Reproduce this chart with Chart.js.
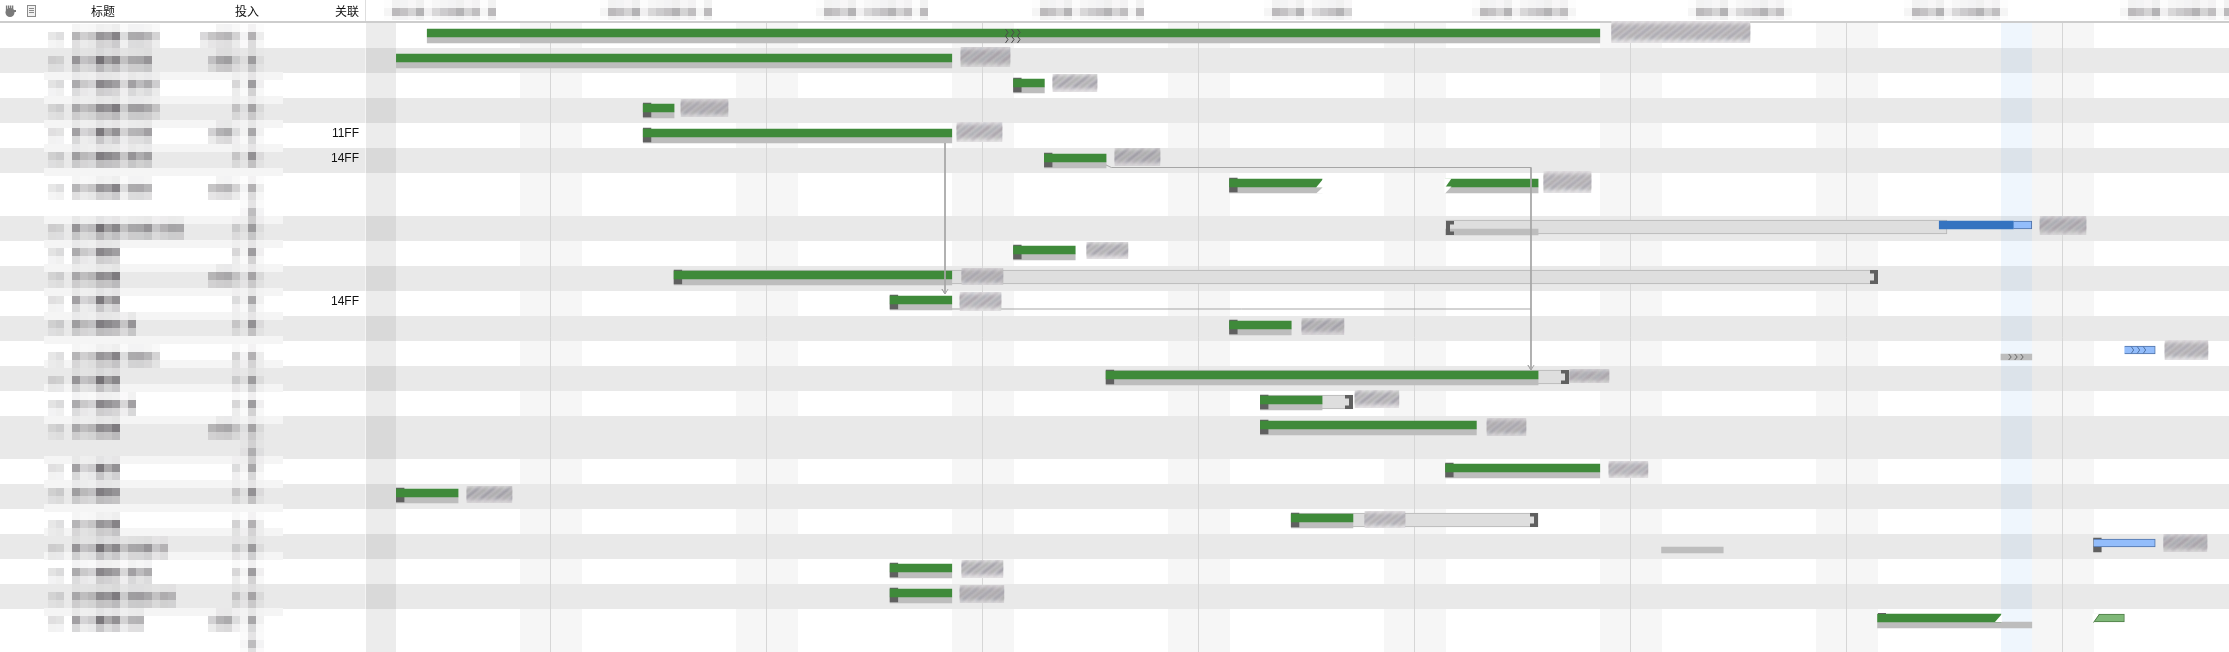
<!DOCTYPE html>
<html>
<head>
<meta charset="utf-8">
<style>
    html, body { margin: 0; padding: 0; background: #fff; overflow: hidden; }
    canvas { display: block; }
</style>
<script src="https://cdn.jsdelivr.net/npm/chart.js@4"></script>
</head>
<body>
<canvas id="ganttChart" width="2229" height="652"></canvas>
<script>
// Satir yukseklikleri (y ekseni birimi)
var rowHeights = [25, 25, 25, 25, 25, 25, 43, 25, 25, 25, 25, 25, 25, 25, 25, 43, 25, 25, 25, 25, 25, 25, 43];

// Sutun basliklari ve iliski etiketleri
var columnTitles = ['标题', '投入', '关联'];
var linkRows = [5, 6, 11];
var linkLabels = ['11FF', '14FF', '14FF'];

// Zaman ekseni (gun)
var weekTicks = [6, 13, 20, 27, 34, 41, 48, 55];
var weekendStarts = [5, 12, 19, 26, 33, 40, 47, 54];
var todayDay = 53;
var lastDay = 60.39;

// [satir, baslangic, bitis]
var actualBars = [[1, 2, 40], [2, 1, 19], [3, 21, 22], [4, 9, 10], [5, 9, 19], [6, 22, 24], [7, 28, 31], [7, 35, 38],
    [9, 21, 23], [10, 10, 19], [11, 17, 19], [12, 28, 30], [14, 24, 38], [15, 29, 31], [16, 29, 36], [17, 35, 40],
    [18, 1, 3], [19, 30, 32], [21, 17, 19], [22, 17, 19], [23, 49, 53]];
var plannedBars = [[1, 2, 40], [2, 1, 19], [3, 21, 22], [4, 9, 10], [5, 9, 19], [6, 22, 24], [7, 28, 31], [7, 35, 38],
    [8, 35, 38], [9, 21, 23], [10, 10, 19], [11, 17, 19], [12, 28, 30], [13, 53, 54], [14, 24, 38], [15, 29, 31],
    [16, 29, 36], [17, 35, 40], [18, 1, 3], [19, 30, 32], [20, 42, 44], [21, 17, 19], [22, 17, 19], [23, 49, 54]];
var outlineBars = [[8, 35, 51.25], [10, 10, 49], [14, 24, 39], [15, 29, 32], [19, 30, 38]];
var darkBlueBars = [[8, 51, 53.4]];
var lightBlueBars = [[8, 53.4, 54], [13, 57, 58], [20, 56, 58]];
var lightGreenBars = [[23, 56, 57]];
var startMarks = [[3, 21], [4, 9], [5, 9], [6, 22], [7, 28], [9, 21], [10, 10], [11, 17], [12, 28], [14, 24], [15, 29],
    [16, 29], [17, 35], [18, 1], [19, 30], [20, 56], [21, 17], [22, 17]];
var endBrackets = [[10, 49], [14, 39], [15, 32], [19, 38]];
var openBrackets = [[8, 35]];

// Baglanti cizgileri [gun, y]
var linkA = [[18.78, 120], [18.78, 271], [18.68, 266], [18.78, 271], [18.88, 266]];
var linkB = [[24, 142], [24.17, 144.5], [37.77, 144.5], [37.77, 347], [37.67, 342], [37.77, 347], [37.87, 342]];
var linkC = [[19, 286], [37.77, 286]];

// Bulanik cubuk etiketleri [satir, baslangic, bitis, ust, yukseklik]
var blurredLabels = [[1, 40.37, 44.88, -2, 22], [2, 19.28, 20.9, -1, 20], [3, 22.26, 23.72, 1, 18], [4, 10.21, 11.76, 1, 18],
    [5, 19.15, 20.64, -1, 20], [6, 24.27, 25.76, 0, 18], [7, 38.17, 39.73, -2, 22], [8, 54.25, 55.77, 0, 19],
    [9, 23.36, 24.72, 1, 17], [10, 19.31, 20.67, 2, 17], [11, 19.25, 20.61, 1, 19], [12, 30.33, 31.72, 2, 17],
    [13, 58.3, 59.72, -1, 20], [14, 39.01, 40.31, 3, 14], [15, 32.05, 33.5, -1, 18], [16, 36.33, 37.62, 2, 18],
    [17, 40.28, 41.57, 2, 17], [18, 3.27, 4.76, 2, 17], [19, 32.37, 33.7, 2, 17], [20, 58.26, 59.69, 0, 18],
    [21, 19.31, 20.67, 1, 18], [22, 19.25, 20.7, 1, 18]];

// Sol tablo mozaik sutun sinirlari
var titleEnds = [160, 152, 160, 160, 152, 152, 152, 184, 120, 120, 120, 136, 160, 120, 136, 120, 120, 120, 120, 168, 152, 176, 144];
var inputStarts = [200, 208, 232, 232, 208, 232, 208, 232, 232, 208, 232, 232, 232, 232, 232, 208, 232, 232, 232, 232, 232, 232, 208];
var titleTones = [.14, .16, 0, .42, .24, .26, .6, .48, .55, .2, .42, .38, .42, .22, .3, .34, .42, .24];
var inputTones = [.22, .26, .34, .42, .2, .06, .44, .08];
var bandGapRows = [1, 21];

// Hafta basliklari mozaik araliklari (gun)
var weekLabelSpans = [[0.84, 3.99], [7.84, 11.18], [14.84, 18.11], [21.81, 24.98], [29.13, 31.89], [35.87, 38.98],
    [42.87, 46.08], [49.87, 53.18], [57.1, 60.37]];
var weekLabelTones = [.05, .34, .3, .22, .38, .08, .2, .26, .3, .38, .22, .32];

var HEADER = 23;
var rowTops = [];
rowHeights.reduce(function (sum, h, i) { rowTops[i] = sum; return sum + h; }, 0);
var totalHeight = rowHeights.reduce(function (a, b) { return a + b; }, 0);

function rowY(row, dy) {
    return rowTops[row - 1] + dy;
}

// 7. satirdan sonra cubuklar satir cizgisine gore 1 birim yukarida duruyor
function barY(row, dy) {
    return rowY(row, dy) - (row > 7 ? 1 : 0);
}

function barData(list, dy) {
    return list.map(function (b) {
        return { x: [b[1], b[2]], y: barY(b[0], dy) };
    });
}

function linkData(list) {
    return list.map(function (p) {
        return { x: p[0], y: p[1] };
    });
}

function barSet(list, dy, color, thickness, order, border) {
    return {
        type: 'bar',
        data: barData(list, dy),
        backgroundColor: color,
        borderColor: border || color,
        borderWidth: border ? 1 : 0,
        barThickness: thickness,
        grouped: false,
        order: order
    };
}

function linkSet(list) {
    return {
        type: 'line',
        data: linkData(list),
        borderColor: '#a6a6a6',
        borderWidth: 1,
        pointRadius: 0,
        tension: 0,
        fill: false,
        order: 1
    };
}

function cell(ctx, x, y, alpha) {
    if (alpha <= 0) return;
    ctx.fillStyle = 'rgba(58,54,60,' + alpha.toFixed(3) + ')';
    ctx.fillRect(x, y, 8, 8);
}

// Arka plan: satirlar, hafta sonlari, bugun
var backgroundPlugin = {
    id: 'ganttBackground',
    beforeDraw: function (chart) {
        var ctx = chart.ctx, xs = chart.scales.x, ys = chart.scales.y;
        var W = chart.width, H = chart.height;
        ctx.save();
        ctx.fillStyle = '#fff';
        ctx.fillRect(0, 0, W, H);

        ctx.fillStyle = '#f6f6f6';
        weekendStarts.forEach(function (d) {
            var a = Math.round(xs.getPixelForValue(d)), b = Math.round(xs.getPixelForValue(d + 2));
            ctx.fillRect(a, HEADER, b - a, H - HEADER);
        });

        var colA = Math.round(xs.getPixelForValue(0)), colB = Math.round(xs.getPixelForValue(1));
        var todayA = Math.round(xs.getPixelForValue(todayDay)), todayB = Math.round(xs.getPixelForValue(todayDay + 1));
        rowHeights.forEach(function (h, i) {
            var top = Math.round(ys.getPixelForValue(rowTops[i]));
            var grey = i % 2 === 1;
            if (grey) {
                ctx.fillStyle = '#e9e9e9';
                ctx.fillRect(0, top, W, h);
            }
            ctx.fillStyle = grey ? '#d9d9d9' : '#ececec';
            ctx.fillRect(colA, top, colB - colA, h);
            ctx.fillStyle = grey ? '#dce3ea' : '#eff6fd';
            ctx.fillRect(todayA, top, todayB - todayA, h);
        });

        ctx.fillStyle = '#cdcdcd';
        ctx.fillRect(0, 21, W, 2);
        ctx.fillStyle = '#dedede';
        ctx.fillRect(colA - 1, 0, 1, 21);
        ctx.fillStyle = 'rgba(255,255,255,.5)';
        ctx.fillRect(colA - 1, HEADER, 1, H - HEADER);
        ctx.restore();
    }
};

function drawHeader(chart) {
    var ctx = chart.ctx, xs = chart.scales.x;
    // el ikonu
    ctx.fillStyle = '#7a7a7a';
    ctx.beginPath();
    ctx.ellipse(10, 12.5, 4.5, 4.5, 0, 0, Math.PI * 2);
    ctx.fill();
    [6.5, 8.5, 10.5, 12.5].forEach(function (x) { ctx.fillRect(x - 0.6, 5.5, 1.4, 6); });
    ctx.fillRect(13, 10, 3, 2);
    // belge ikonu
    ctx.fillStyle = '#f2f2f2';
    ctx.fillRect(27.5, 5.5, 8, 11);
    ctx.strokeStyle = '#8a8a8a';
    ctx.lineWidth = 1;
    ctx.strokeRect(27.5, 5.5, 8, 11);
    ctx.beginPath();
    [8.5, 10.5, 12.5].forEach(function (y) { ctx.moveTo(29, y); ctx.lineTo(34, y); });
    ctx.stroke();

    ctx.fillStyle = '#111';
    ctx.font = '12px "Noto Sans CJK SC"';
    ctx.textBaseline = 'middle';
    ctx.textAlign = 'center';
    ctx.fillText(columnTitles[0], 103, 11);
    ctx.fillText(columnTitles[1], 247, 11);
    ctx.textAlign = 'right';
    ctx.fillText(columnTitles[2], 359, 11);

    weekLabelSpans.forEach(function (span) {
        var a = Math.floor(xs.getPixelForValue(span[0]) / 8) * 8;
        var b = Math.min(Math.ceil(xs.getPixelForValue(span[1]) / 8) * 8, chart.width);
        for (var x = a, k = 0; x < b; x += 8, k++) {
            var t = weekLabelTones[k % weekLabelTones.length];
            cell(ctx, x, 8, t);
            cell(ctx, x, 0, t * 0.2);
            ctx.fillStyle = 'rgba(58,54,60,' + (t * 0.2).toFixed(3) + ')';
            ctx.fillRect(x, 16, 8, 4);
        }
    });
}

function drawLeftTable(chart) {
    var ctx = chart.ctx, ys = chart.scales.y;
    rowHeights.forEach(function (h, i) {
        if (i > 0 && bandGapRows.indexOf(i) < 0) {
            var top = Math.round(ys.getPixelForValue(rowTops[i]));
            ctx.fillStyle = '#f5f5f5';
            ctx.fillRect(44, Math.floor(top / 8) * 8, 239, 8);
        }
    });
    rowHeights.forEach(function (h, i) {
        var top = Math.round(ys.getPixelForValue(rowTops[i]));
        var line = Math.floor((top + 11) / 8) * 8;
        var x, k, t;
        for (x = 48, k = 0; x < titleEnds[i]; x += 8, k++) {
            t = titleTones[k % titleTones.length] * (1 + 0.12 * ((k * 7 + i * 5) % 3 - 1));
            cell(ctx, x, line, t);
            cell(ctx, x, line + 8, t * 0.42);
            if (x >= 72) cell(ctx, x, line - 8, t * 0.14);
        }
        for (x = inputStarts[i]; x < 264; x += 8) {
            k = (x - 200) / 8;
            t = inputTones[k] * (1 + 0.12 * ((k * 5 + i * 7) % 3 - 1));
            cell(ctx, x, line, t);
            cell(ctx, x, line + 8, t * 0.45);
            if (x >= 216) cell(ctx, x, line - 8, t * 0.16);
        }
        if (h > 30) {
            for (x = 240; x < 264; x += 8) {
                k = (x - 200) / 8;
                cell(ctx, x, line + 16, inputTones[k] * 0.3);
                cell(ctx, x, line + 24, inputTones[k] * 0.75);
                cell(ctx, x, line + 32, inputTones[k] * 0.35);
            }
        }
    });

    ctx.fillStyle = '#111';
    ctx.font = '12px "Liberation Sans"';
    ctx.textAlign = 'right';
    ctx.textBaseline = 'middle';
    linkRows.forEach(function (row, i) {
        ctx.fillText(linkLabels[i], 359, ys.getPixelForValue(rowY(row, 11)));
    });
}

function drawBlurredLabels(chart) {
    var ctx = chart.ctx, xs = chart.scales.x, ys = chart.scales.y;
    var streaks = ['#7d7480', '#8d9a8c', '#a28f9f', '#7f8c9c', '#5f5a60', '#b2a9b5'];
    blurredLabels.forEach(function (l, n) {
        var x0 = xs.getPixelForValue(l[1]), x1 = xs.getPixelForValue(l[2]);
        var y0 = ys.getPixelForValue(rowY(l[0], l[3])), h = l[4], w = x1 - x0;
        var count = Math.round((w + h) / 2.6);
        ctx.save();
        ctx.beginPath();
        ctx.rect(x0, y0, w, h);
        ctx.clip();
        ctx.fillStyle = l[0] % 2 ? '#e4e2e4' : '#d8d6d8';
        ctx.fillRect(x0, y0, w, h);
        ctx.filter = 'blur(1.5px)';
        ctx.lineWidth = 1.7;
        for (var k = 0; k < count; k++) {
            var sx = x0 - h * 0.8 + (w + h * 0.8) * k / (count - 1);
            ctx.strokeStyle = streaks[(k + n) % streaks.length];
            ctx.globalAlpha = 0.55;
            ctx.beginPath();
            ctx.moveTo(sx, y0 + h * (0.9 - (k % 3) * 0.08));
            ctx.lineTo(sx + h * 0.9, y0 + h * (0.2 - (k % 3) * 0.08));
            ctx.stroke();
        }
        ctx.restore();
    });
}

function drawChevrons(ctx, x, top, bottom, gap, count, color) {
    ctx.strokeStyle = color;
    ctx.lineWidth = 1;
    ctx.beginPath();
    var mid = (top + bottom) / 2, reach = 2.5;
    for (var i = 0; i < count; i++) {
        var cx = x + i * gap;
        ctx.moveTo(cx, top);
        ctx.lineTo(cx + reach, mid);
        ctx.lineTo(cx, bottom);
    }
    ctx.stroke();
}

function drawBracket(chart, row, day, side) {
    var ctx = chart.ctx;
    var x = Math.round(chart.scales.x.getPixelForValue(day));
    var top = Math.round(chart.scales.y.getPixelForValue(rowY(row, row === 8 ? 5 : 4)));
    var dir = side === 'end' ? -1 : 1;
    ctx.fillStyle = '#606060';
    ctx.fillRect(dir > 0 ? x : x - 4, top, 4, 14);
    ctx.fillRect(dir > 0 ? x : x - 8, top, 8, 3.5);
    ctx.fillRect(dir > 0 ? x : x - 8, top + 10.5, 8, 3.5);
}

function cutCorner(chart, row, day, dyTop, dyBottom, side) {
    var ctx = chart.ctx;
    var x = chart.scales.x.getPixelForValue(day);
    var t = chart.scales.y.getPixelForValue(rowY(row, dyTop));
    var b = chart.scales.y.getPixelForValue(rowY(row, dyBottom));
    ctx.fillStyle = '#fff';
    ctx.beginPath();
    if (side === 'end') {
        ctx.moveTo(x + 1, t);
        ctx.lineTo(x + 1, b + 0.5);
        ctx.lineTo(x - 6, b + 0.5);
    } else {
        ctx.moveTo(x - 1, t - 0.5);
        ctx.lineTo(x - 1, b);
        ctx.lineTo(x, b);
        ctx.lineTo(x + 6, t - 0.5);
    }
    ctx.closePath();
    ctx.fill();
}

var decorationPlugin = {
    id: 'ganttDecoration',
    afterDatasetsDraw: function (chart) {
        var ctx = chart.ctx, xs = chart.scales.x, ys = chart.scales.y;
        ctx.save();
        endBrackets.forEach(function (b) { drawBracket(chart, b[0], b[1], 'end'); });
        openBrackets.forEach(function (b) { drawBracket(chart, b[0], b[1], 'start'); });

        // egik uclar
        cutCorner(chart, 7, 31, 6, 14, 'end');
        cutCorner(chart, 7, 31, 14, 20, 'end');
        cutCorner(chart, 7, 35, 6, 14, 'start');
        cutCorner(chart, 7, 35, 14, 20, 'start');
        cutCorner(chart, 23, 53, 5, 12.5, 'end');
        cutCorner(chart, 23, 56, 5, 13.5, 'start');
        ctx.strokeStyle = '#4c7c46';
        ctx.lineWidth = 1;
        ctx.beginPath();
        ctx.moveTo(xs.getPixelForValue(56), ys.getPixelForValue(rowY(23, 13.5)));
        ctx.lineTo(xs.getPixelForValue(56) + 6, ys.getPixelForValue(rowY(23, 5)));
        ctx.stroke();

        // son satirdaki kucuk isaret
        ctx.fillStyle = '#606060';
        ctx.fillRect(Math.round(xs.getPixelForValue(49)), ys.getPixelForValue(rowY(23, 4)), 8, 1);

        // >>> isaretleri
        drawChevrons(ctx, xs.getPixelForValue(20.74), ys.getPixelForValue(rowY(1, 6)), ys.getPixelForValue(rowY(1, 13)), 6, 3, '#4a4a4a');
        drawChevrons(ctx, xs.getPixelForValue(20.74), ys.getPixelForValue(rowY(1, 13)), ys.getPixelForValue(rowY(1, 20)), 6, 3, '#4a4a4a');
        drawChevrons(ctx, xs.getPixelForValue(57.22), ys.getPixelForValue(rowY(13, 5.5)), ys.getPixelForValue(rowY(13, 12.5)), 6, 3, '#4f72a6');
        drawChevrons(ctx, xs.getPixelForValue(53.25), ys.getPixelForValue(rowY(13, 13)), ys.getPixelForValue(rowY(13, 19)), 6, 3, '#666');

        drawBlurredLabels(chart);
        drawLeftTable(chart);
        drawHeader(chart);
        ctx.restore();
    }
};

var chart = new Chart(document.getElementById('ganttChart').getContext('2d'), {
    data: {
        datasets: [
            linkSet(linkA),
            linkSet(linkB),
            linkSet(linkC),
            barSet(actualBars, 10, '#3f8a3a', 8, 2),
            barSet(darkBlueBars, 10, '#3573c0', 8, 2),
            barSet(lightBlueBars, 10, '#93bdfb', 8, 2, '#4f73a8'),
            barSet(lightGreenBars, 10, '#7fb878', 8, 2, '#4c7c46'),
            barSet(startMarks.map(function (m) { return [m[0], m[1], m[1] + 0.25]; }), 12, '#606060', 14, 3),
            barSet(plannedBars, 17, '#bdbdbd', 6, 4),
            barSet(outlineBars, 12, '#dedede', 14, 5, '#b5b5b5')
        ]
    },
    options: {
        indexAxis: 'y',
        responsive: false,
        animation: false,
        events: [],
        layout: { padding: { left: 365.5, top: HEADER, right: 0, bottom: 0 } },
        plugins: { legend: { display: false }, tooltip: { enabled: false } },
        scales: {
            x: {
                type: 'linear',
                position: 'top',
                min: 0,
                max: lastDay,
                afterBuildTicks: function (scale) {
                    scale.ticks = weekTicks.map(function (v) { return { value: v }; });
                },
                ticks: { display: false },
                grid: { color: '#d6d6d6', lineWidth: 1, drawTicks: false },
                border: { display: false }
            },
            y: {
                type: 'linear',
                reverse: true,
                offset: false,
                min: 0,
                max: totalHeight,
                display: false
            }
        }
    },
    plugins: [backgroundPlugin, decorationPlugin]
});
</script>
</body>
</html>
